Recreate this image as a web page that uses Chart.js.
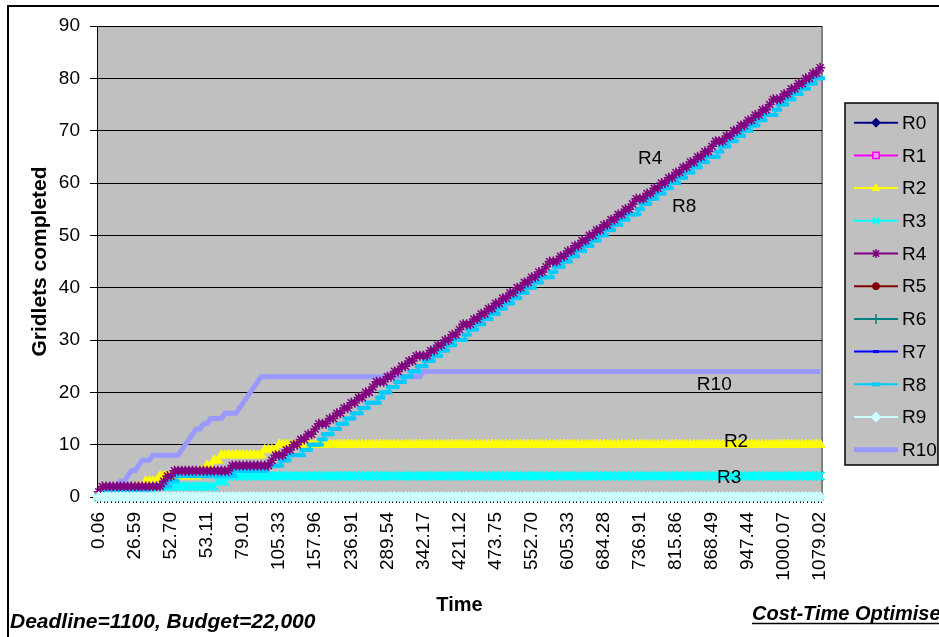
<!DOCTYPE html>
<html>
<head>
<meta charset="utf-8">
<script src="https://cdn.jsdelivr.net/npm/chart.js@4.4.1/dist/chart.umd.min.js"></script>
<style>
html,body{margin:0;padding:0;background:#fff;}
#wrap{width:939px;height:637px;position:relative;}
</style>
</head>
<body>
<div id="wrap"><canvas id="c" width="939" height="637"></canvas></div>
<script>
// ---- tick labels on the Time axis (one every 10 completion events) ----
const tickLabels = ['0.06','26.59','52.70','53.11','79.01','105.33','157.96','236.91','289.54','342.17','421.12','473.75','552.70','605.33','684.28','736.91','815.86','868.49','947.44','1000.07','1079.02'];

// ---- series: gridlets completed per resource at each completion event ----
const R0 = [
0,0,0,0,0,0,0,0,0,0,0,0,0,0,0,0,0,0,0,0,
0,0,0,0,0,0,0,0,0,0,0,0,0,0,0,0,0,0,0,0,
0,0,0,0,0,0,0,0,0,0,0,0,0,0,0,0,0,0,0,0,
0,0,0,0,0,0,0,0,0,0,0,0,0,0,0,0,0,0,0,0,
0,0,0,0,0,0,0,0,0,0,0,0,0,0,0,0,0,0,0,0,
0,0,0,0,0,0,0,0,0,0,0,0,0,0,0,0,0,0,0,0,
0,0,0,0,0,0,0,0,0,0,0,0,0,0,0,0,0,0,0,0,
0,0,0,0,0,0,0,0,0,0,0,0,0,0,0,0,0,0,0,0,
0,0,0,0,0,0,0,0,0,0,0,0,0,0,0,0,0,0,0,0,
0,0,0,0,0,0,0,0,0,0,0,0,0,0,0,0,0,0,0,0,
0];
const R1 = [
0,0,0,0,0,0,0,0,0,0,0,0,0,0,0,0,0,0,0,0,
0,0,0,0,0,0,0,0,0,0,0,0,0,0,0,0,0,0,0,0,
0,0,0,0,0,0,0,0,0,0,0,0,0,0,0,0,0,0,0,0,
0,0,0,0,0,0,0,0,0,0,0,0,0,0,0,0,0,0,0,0,
0,0,0,0,0,0,0,0,0,0,0,0,0,0,0,0,0,0,0,0,
0,0,0,0,0,0,0,0,0,0,0,0,0,0,0,0,0,0,0,0,
0,0,0,0,0,0,0,0,0,0,0,0,0,0,0,0,0,0,0,0,
0,0,0,0,0,0,0,0,0,0,0,0,0,0,0,0,0,0,0,0,
0,0,0,0,0,0,0,0,0,0,0,0,0,0,0,0,0,0,0,0,
0,0,0,0,0,0,0,0,0,0,0,0,0,0,0,0,0,0,0,0,
0];
const R2 = [
0,0,0,0,0,0,0,1,1,1,
2,2,2,3,3,3,3,4,4,4,
4,4,4,4,4,4,4,4,5,5,
6,6,7,7,8,8,8,8,8,8,
8,8,8,8,8,8,9,9,9,9,
10,10,10,10,10,10,10,10,10,10,
10,10,10,10,10,10,10,10,10,10,
10,10,10,10,10,10,10,10,10,10,
10,10,10,10,10,10,10,10,10,10,
10,10,10,10,10,10,10,10,10,10,
10,10,10,10,10,10,10,10,10,10,
10,10,10,10,10,10,10,10,10,10,
10,10,10,10,10,10,10,10,10,10,
10,10,10,10,10,10,10,10,10,10,
10,10,10,10,10,10,10,10,10,10,
10,10,10,10,10,10,10,10,10,10,
10,10,10,10,10,10,10,10,10,10,
10,10,10,10,10,10,10,10,10,10,
10,10,10,10,10,10,10,10,10,10,
10,10,10,10,10,10,10,10,10,10,
10];
const R3 = [
0,0,0,0,1,1,1,1,1,1,
1,1,1,1,1,1,2,2,2,2,
2,2,2,2,2,2,2,2,2,2,
2,2,2,3,3,3,4,4,4,4,
4,4,4,4,4,4,4,4,4,4,
4,4,4,4,4,4,4,4,4,4,
4,4,4,4,4,4,4,4,4,4,
4,4,4,4,4,4,4,4,4,4,
4,4,4,4,4,4,4,4,4,4,
4,4,4,4,4,4,4,4,4,4,
4,4,4,4,4,4,4,4,4,4,
4,4,4,4,4,4,4,4,4,4,
4,4,4,4,4,4,4,4,4,4,
4,4,4,4,4,4,4,4,4,4,
4,4,4,4,4,4,4,4,4,4,
4,4,4,4,4,4,4,4,4,4,
4,4,4,4,4,4,4,4,4,4,
4,4,4,4,4,4,4,4,4,4,
4,4,4,4,4,4,4,4,4,4,
4,4,4,4,4,4,4,4,4,4,
4];
const R4 = [
1,2,2,2,2,2,2,2,2,2,
2,2,2,2,2,2,2,2,3,4,
4,5,5,5,5,5,5,5,5,5,
5,5,5,5,5,5,5,6,6,6,
6,6,6,6,6,6,6,6,7,8,
8,8,9,9,10,10,11,11,12,12,
13,14,14,14,15,15,16,16,17,17,
18,18,19,19,20,20,21,22,22,22,
23,23,24,24,25,25,26,26,27,27,
27,27,28,28,29,29,30,30,31,31,
32,33,33,33,34,34,35,35,36,36,
37,37,38,38,39,39,40,40,41,41,
42,42,43,43,44,45,45,45,46,46,
47,47,48,48,49,49,50,50,51,51,
52,52,53,53,54,54,55,55,56,57,
57,57,58,58,59,59,60,60,61,61,
62,62,63,63,64,64,65,65,66,66,
67,68,68,68,69,69,70,70,71,71,
72,72,73,73,74,74,75,76,76,76,
77,77,78,78,79,79,80,80,81,81,
82];
const R5 = [
0,0,0,0,0,0,0,0,0,0,0,0,0,0,0,0,0,0,0,0,
0,0,0,0,0,0,0,0,0,0,0,0,0,0,0,0,0,0,0,0,
0,0,0,0,0,0,0,0,0,0,0,0,0,0,0,0,0,0,0,0,
0,0,0,0,0,0,0,0,0,0,0,0,0,0,0,0,0,0,0,0,
0,0,0,0,0,0,0,0,0,0,0,0,0,0,0,0,0,0,0,0,
0,0,0,0,0,0,0,0,0,0,0,0,0,0,0,0,0,0,0,0,
0,0,0,0,0,0,0,0,0,0,0,0,0,0,0,0,0,0,0,0,
0,0,0,0,0,0,0,0,0,0,0,0,0,0,0,0,0,0,0,0,
0,0,0,0,0,0,0,0,0,0,0,0,0,0,0,0,0,0,0,0,
0,0,0,0,0,0,0,0,0,0,0,0,0,0,0,0,0,0,0,0,
0];
const R6 = [
0,0,0,0,0,0,0,0,0,0,0,0,0,0,0,0,0,0,0,0,
0,0,0,0,0,0,0,0,0,0,0,0,0,0,0,0,0,0,0,0,
0,0,0,0,0,0,0,0,0,0,0,0,0,0,0,0,0,0,0,0,
0,0,0,0,0,0,0,0,0,0,0,0,0,0,0,0,0,0,0,0,
0,0,0,0,0,0,0,0,0,0,0,0,0,0,0,0,0,0,0,0,
0,0,0,0,0,0,0,0,0,0,0,0,0,0,0,0,0,0,0,0,
0,0,0,0,0,0,0,0,0,0,0,0,0,0,0,0,0,0,0,0,
0,0,0,0,0,0,0,0,0,0,0,0,0,0,0,0,0,0,0,0,
0,0,0,0,0,0,0,0,0,0,0,0,0,0,0,0,0,0,0,0,
0,0,0,0,0,0,0,0,0,0,0,0,0,0,0,0,0,0,0,0,
0];
const R7 = [
0,0,0,0,0,0,0,0,0,0,0,0,0,0,0,0,0,0,0,0,
0,0,0,0,0,0,0,0,0,0,0,0,0,0,0,0,0,0,0,0,
0,0,0,0,0,0,0,0,0,0,0,0,0,0,0,0,0,0,0,0,
0,0,0,0,0,0,0,0,0,0,0,0,0,0,0,0,0,0,0,0,
0,0,0,0,0,0,0,0,0,0,0,0,0,0,0,0,0,0,0,0,
0,0,0,0,0,0,0,0,0,0,0,0,0,0,0,0,0,0,0,0,
0,0,0,0,0,0,0,0,0,0,0,0,0,0,0,0,0,0,0,0,
0,0,0,0,0,0,0,0,0,0,0,0,0,0,0,0,0,0,0,0,
0,0,0,0,0,0,0,0,0,0,0,0,0,0,0,0,0,0,0,0,
0,0,0,0,0,0,0,0,0,0,0,0,0,0,0,0,0,0,0,0,
0];
const R8 = [
0,0,1,1,1,1,1,1,1,1,
1,1,1,1,2,2,2,2,2,2,
3,3,4,4,4,4,4,4,4,4,
4,4,4,4,4,4,4,4,5,5,
5,5,5,5,5,5,5,6,6,6,
6,7,7,8,8,8,8,9,9,10,
10,10,11,12,12,13,13,14,14,15,
15,16,16,17,17,18,18,18,19,20,
20,21,21,22,22,23,23,24,24,25,
25,26,26,27,27,28,28,29,29,30,
30,30,31,32,32,33,33,34,34,35,
35,36,36,37,37,38,38,39,39,40,
40,41,41,42,42,42,43,44,44,45,
45,46,46,47,47,48,48,49,49,50,
50,51,51,52,52,53,53,54,54,54,
55,56,56,57,57,58,58,59,59,60,
60,61,61,62,62,63,63,64,64,65,
65,65,66,67,67,68,68,69,69,70,
70,71,71,72,72,73,73,73,74,75,
75,76,76,77,77,78,78,79,79,80,
80];
const R9 = [
0,0,0,0,0,0,0,0,0,0,0,0,0,0,0,0,0,0,0,0,
0,0,0,0,0,0,0,0,0,0,0,0,0,0,0,0,0,0,0,0,
0,0,0,0,0,0,0,0,0,0,0,0,0,0,0,0,0,0,0,0,
0,0,0,0,0,0,0,0,0,0,0,0,0,0,0,0,0,0,0,0,
0,0,0,0,0,0,0,0,0,0,0,0,0,0,0,0,0,0,0,0,
0,0,0,0,0,0,0,0,0,0,0,0,0,0,0,0,0,0,0,0,
0,0,0,0,0,0,0,0,0,0,0,0,0,0,0,0,0,0,0,0,
0,0,0,0,0,0,0,0,0,0,0,0,0,0,0,0,0,0,0,0,
0,0,0,0,0,0,0,0,0,0,0,0,0,0,0,0,0,0,0,0,
0,0,0,0,0,0,0,0,0,0,0,0,0,0,0,0,0,0,0,0,
0];
const R10 = [
0,0,0,1,1,2,3,3,4,5,
5,6,7,7,7,8,8,8,8,8,
8,8,8,9,10,11,12,13,13,14,
14,15,15,15,15,16,16,16,16,17,
18,19,20,21,22,23,23,23,23,23,
23,23,23,23,23,23,23,23,23,23,
23,23,23,23,23,23,23,23,23,23,
23,23,23,23,23,23,23,23,23,23,
23,23,23,23,23,23,23,23,23,23,
24,24,24,24,24,24,24,24,24,24,
24,24,24,24,24,24,24,24,24,24,
24,24,24,24,24,24,24,24,24,24,
24,24,24,24,24,24,24,24,24,24,
24,24,24,24,24,24,24,24,24,24,
24,24,24,24,24,24,24,24,24,24,
24,24,24,24,24,24,24,24,24,24,
24,24,24,24,24,24,24,24,24,24,
24,24,24,24,24,24,24,24,24,24,
24,24,24,24,24,24,24,24,24,24,
24,24,24,24,24,24,24,24,24,24,
24];

const seriesNames = ['R0','R1','R2','R3','R4','R5','R6','R7','R8','R9','R10'];
const seriesData = [R0,R1,R2,R3,R4,R5,R6,R7,R8,R9,R10];

// ---- styling (kept apart from data) ----
const FONT = '"Liberation Sans", Arial, Helvetica, sans-serif';
const styles = [
  {color:'#000080', fill:'#000080', point:'rectRot',  r:4,   lr:4.5, pw:1,   lw:2, order:10},
  {color:'#FF00FF', fill:'#FF99FF', point:'rect',     r:4,   lr:4.5, pw:1.5, lw:2, order:9},
  {color:'#FFFF00', fill:'#FFFF00', point:'triangle', r:5.5, lr:4.5, pw:1,   lw:2, order:4},
  {color:'#00FFFF', fill:'#00FFFF', point:'crossRot', r:6,   lr:4.5, pw:2,   lw:2, order:3},
  {color:'#800080', fill:'#800080', point:'star',     r:5,   lr:4.5, pw:1.5, lw:2, order:1},
  {color:'#800000', fill:'#800000', point:'circle',   r:3.5, lr:3.5, pw:1,   lw:2, order:8},
  {color:'#008080', fill:'#008080', point:'cross',    r:4.5, lr:5,   pw:1.5, lw:2, order:7},
  {color:'#0000FF', fill:'#0000FF', point:'line',     r:3,   lr:3,   pw:3,   lw:2, order:6},
  {color:'#00CCFF', fill:'#00CCFF', point:'line',     r:5,   lr:4.5, pw:4,   lw:2, order:2},
  {color:'#CCFFFF', fill:'#CCFFFF', point:'rectRot',  r:5.5, lr:5,   pw:1,   lw:2, order:0},
  {color:'#9999FF', fill:'#9999FF', point:false,      r:0,   lr:0,   pw:0,   lw:5, order:5}
];

// category labels: the time label at every 10th completion event
const categories = R4.map((_, i) => (i % 10 === 0 ? tickLabels[i / 10] : ''));

// in-plot series labels, anchored in data units (category index, value)
const inlineLabels = [
  {text:'R4',  cat:149.5, val:63.6},
  {text:'R8',  cat:158.9, val:54.5},
  {text:'R10', cat:165.8, val:20.4},
  {text:'R2',  cat:173.3, val:9.5},
  {text:'R3',  cat:171.4, val:2.7}
];

const datasets = seriesNames.map((name, k) => {
  const s = styles[k];
  return {
    label: name,
    data: seriesData[k],
    borderColor: s.color,
    backgroundColor: s.fill,
    borderWidth: s.lw,
    pointStyle: s.point,
    pointRadius: s.r,
    pointHoverRadius: s.r,
    pointBorderWidth: s.pw,
    pointBorderColor: s.color,
    pointBackgroundColor: s.fill,
    tension: 0,
    clip: false,
    order: s.order
  };
});

const framePlugin = {
  id: 'frame',
  beforeDraw(chart) {
    const {ctx, chartArea: a} = chart;
    ctx.save();
    ctx.fillStyle = '#fff';
    ctx.fillRect(0, 0, chart.width, chart.height);
    ctx.strokeStyle = '#000';
    ctx.lineWidth = 2;
    ctx.strokeRect(8, 6, chart.width + 40, chart.height + 40);
    ctx.fillStyle = '#C0C0C0';
    ctx.fillRect(a.left, a.top, a.right - a.left, a.bottom - a.top);
    ctx.strokeStyle = '#808080';
    ctx.lineWidth = 2;
    ctx.beginPath();
    ctx.moveTo(a.right, a.top);
    ctx.lineTo(a.right, a.bottom);
    ctx.stroke();
    ctx.restore();
  }
};

function drawMarker(ctx, s, x, y) {
  if (!s.point) return;
  if (Chart.helpers && Chart.helpers.drawPoint) {
    Chart.helpers.drawPoint(ctx, {pointStyle: s.point, radius: s.lr, rotation: 0, borderWidth: s.pw}, x, y);
  } else {
    ctx.beginPath(); ctx.arc(x, y, s.lr, 0, Math.PI * 2); ctx.fill(); ctx.stroke();
  }
}

const legendPlugin = {
  id: 'excelLegend',
  afterDraw(chart) {
    const ctx = chart.ctx;
    const bx = 845, by = 103, bw = 93, bh = 362;
    ctx.save();
    ctx.fillStyle = '#C0C0C0';
    ctx.fillRect(bx, by, bw, bh);
    ctx.strokeStyle = '#000';
    ctx.lineWidth = 1.5;
    ctx.strokeRect(bx, by, bw, bh);
    const y0 = 122.7, step = 32.7;
    seriesNames.forEach((name, k) => {
      const s = styles[k];
      const y = y0 + k * step;
      ctx.strokeStyle = s.color;
      ctx.lineWidth = s.lw;
      ctx.beginPath();
      ctx.moveTo(854, y);
      ctx.lineTo(898, y);
      ctx.stroke();
      ctx.fillStyle = s.fill;
      ctx.strokeStyle = s.color;
      ctx.lineWidth = s.pw;
      drawMarker(ctx, s, 876, y);
      ctx.fillStyle = '#000';
      ctx.font = '19px ' + FONT;
      ctx.textAlign = 'left';
      ctx.textBaseline = 'middle';
      ctx.fillText(name, 902, y + 1);
    });
    ctx.restore();
  }
};

const textPlugin = {
  id: 'texts',
  afterDraw(chart) {
    const ctx = chart.ctx;
    const xs = chart.scales.x, ys = chart.scales.y;
    ctx.save();
    ctx.fillStyle = '#000';
    ctx.font = '19px ' + FONT;
    ctx.textAlign = 'left';
    ctx.textBaseline = 'alphabetic';
    inlineLabels.forEach(l => {
      ctx.fillText(l.text, xs.getPixelForValue(l.cat), ys.getPixelForValue(l.val));
    });
    ctx.font = 'italic bold 21px ' + FONT;
    ctx.fillText('Deadline=1100, Budget=22,000', 10, 628);
    ctx.font = 'italic bold 20px ' + FONT;
    const t = 'Cost-Time Optimise';
    ctx.fillText(t, 752, 620);
    const w = ctx.measureText(t).width;
    ctx.strokeStyle = '#000';
    ctx.lineWidth = 1.5;
    ctx.beginPath();
    ctx.moveTo(752, 623.5);
    ctx.lineTo(752 + w, 623.5);
    ctx.stroke();
    ctx.restore();
  }
};

new Chart(document.getElementById('c'), {
  type: 'line',
  data: {labels: categories, datasets: datasets},
  options: {
    responsive: false,
    animation: false,
    events: [],
    layout: {padding: {left: 10, right: 117, top: 26, bottom: 0}},
    plugins: {legend: {display: false}, tooltip: {enabled: false}, title: {display: false}},
    scales: {
      x: {
        type: 'category',
        offset: true,
        grid: {display: true, drawOnChartArea: false, drawTicks: true, tickLength: 6, color: '#000', offset: true},
        border: {display: true, color: '#000', width: 1},
        ticks: {autoSkip: false, maxRotation: 90, minRotation: 90, padding: 9, color: '#000', font: {family: FONT, size: 19}},
        title: {display: true, text: 'Time', color: '#000', font: {family: FONT, size: 20, weight: 'bold'}, padding: {top: 0, bottom: 20}},
        afterFit(s) { s.height = 140; }
      },
      y: {
        min: 0,
        max: 90,
        ticks: {stepSize: 10, padding: 10, color: '#000', font: {family: FONT, size: 19}},
        grid: {color: '#000', lineWidth: 1, tickLength: 7, drawTicks: true},
        border: {display: true, color: '#000', width: 1},
        title: {display: true, text: 'Gridlets completed', color: '#000', font: {family: FONT, size: 21, weight: 'bold'}, padding: {top: 18, bottom: 0}},
        afterFit(s) { s.width = 87; }
      }
    }
  },
  plugins: [framePlugin, legendPlugin, textPlugin]
});
</script>
</body>
</html>
